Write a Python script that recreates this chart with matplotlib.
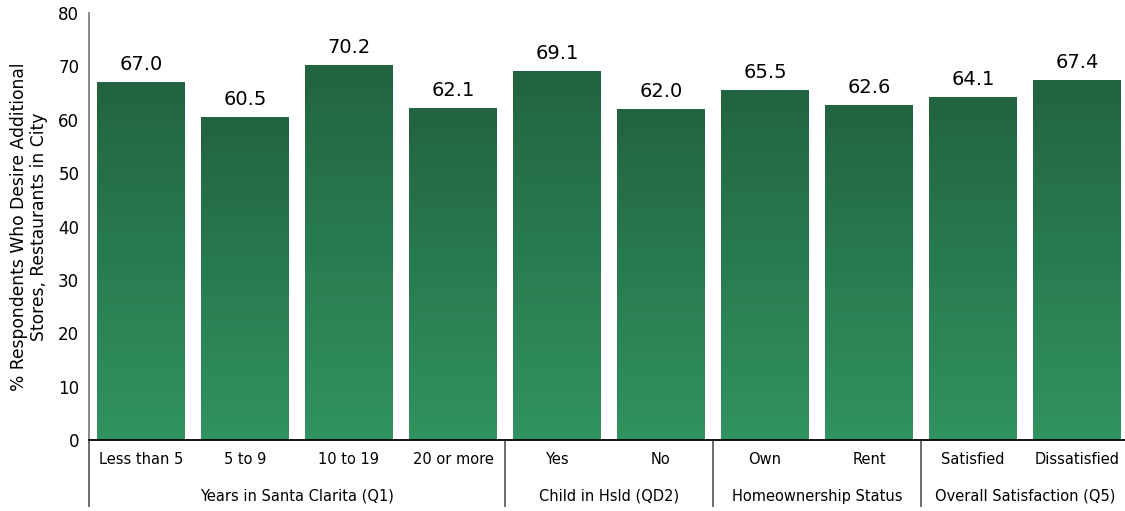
import numpy as np
import matplotlib.pyplot as plt
from matplotlib.colors import LinearSegmentedColormap
from matplotlib.transforms import blended_transform_factory

categories = ['Less than 5', '5 to 9', '10 to 19', '20 or more', 'Yes', 'No',
              'Own', 'Rent', 'Satisfied', 'Dissatisfied']
values = [67.0, 60.5, 70.2, 62.1, 69.1, 62.0, 65.5, 62.6, 64.1, 67.4]
groups = ['Years in Santa Clarita (Q1)', 'Child in Hsld (QD2)',
          'Homeownership Status', 'Overall Satisfaction (Q5)']
group_sizes = [4, 2, 2, 2]

plt.rcParams['font.family'] = ['DejaVu Sans']

W, H = 1125, 511
fig = plt.figure(figsize=(W / 100, H / 100), dpi=100)
left, right, top, bottom = 89, 1129, 13, 440
ax = fig.add_axes([left / W, 1 - bottom / H, (right - left) / W, (bottom - top) / H])

cmap = LinearSegmentedColormap.from_list('g', ['#31935f', '#226440'])
grad = np.linspace(0, 1, 256).reshape(-1, 1)
bw = 88 / 104
x = np.arange(len(values))
for xi, v in zip(x, values):
    ax.imshow(grad, cmap=cmap, origin='lower', aspect='auto',
              extent=(xi - bw / 2, xi + bw / 2, 0, v), zorder=2)
    ax.text(xi, v + 1.6, f'{v:.1f}', ha='center', va='bottom', fontsize=14)

ax.set_xlim(-0.5, len(values) - 0.5)
ax.set_ylim(0, 80)
ax.set_yticks(range(0, 81, 10))
ax.tick_params(axis='y', length=0, labelsize=12, pad=7)
ax.set_xticks(x)
ax.set_xticklabels(categories, fontsize=10.5)
ax.tick_params(axis='x', length=0, pad=9)

for s in ['top', 'right']:
    ax.spines[s].set_visible(False)
ax.spines['left'].set_color('#808080')
ax.spines['left'].set_linewidth(1.3)
ax.spines['bottom'].set_color('black')
ax.spines['bottom'].set_linewidth(1.3)

ax.set_ylabel('% Respondents Who Desire Additional\nStores, Restaurants in City',
              fontsize=12.3, linespacing=1.15)
ax.yaxis.set_label_coords(-41 / (right - left), 0.5)

trans = blended_transform_factory(ax.transData, ax.transAxes)
sep_len = 66 / (bottom - top)
start = -0.5
for name, n in zip(groups, group_sizes):
    end = start + n
    ax.text((start + end) / 2, -56 / (bottom - top), name, transform=trans,
            ha='center', va='center', fontsize=10.5)
    ax.plot([start, start], [0, -sep_len], transform=trans, color='#606060',
            lw=1.3, clip_on=False)
    start = end

fig.savefig('out.png', dpi=100)
